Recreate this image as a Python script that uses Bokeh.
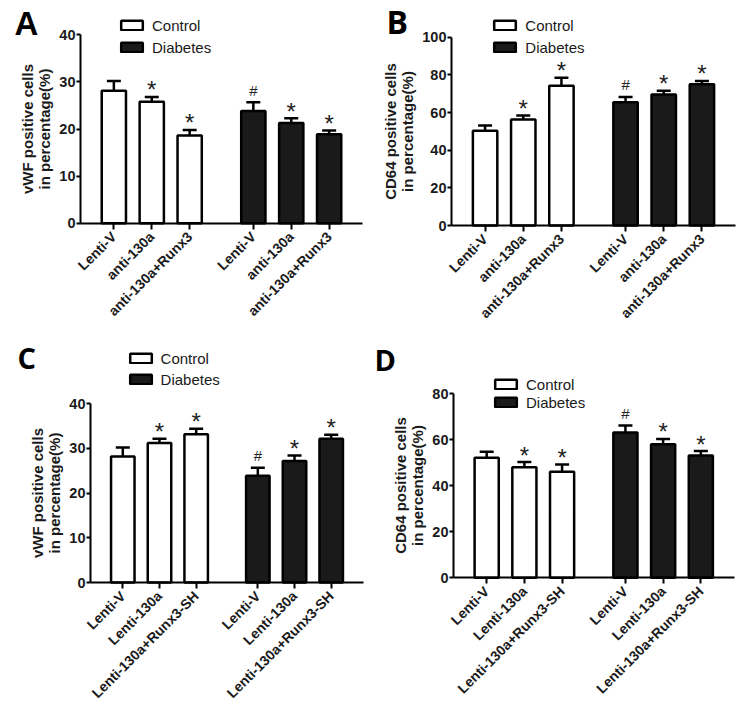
from math import pi
from bokeh.plotting import figure
from bokeh.models import (Range1d, FixedTicker, Legend, LegendItem, Label, Whisker,
                          ColumnDataSource, TeeHead, LinearAxis)
from bokeh.layouts import row, column
from bokeh.embed import file_html
from bokeh.resources import INLINE
from bokeh.core.properties import value

# ---------------- data ----------------
groups = ["Control", "Diabetes"]
labels_ab = ["Lenti-V", "anti-130a", "anti-130a+Runx3"]
labels_cd = ["Lenti-V", "Lenti-130a", "Lenti-130a+Runx3-SH"]
marks_control = ["", "*", "*"]
marks_diabetes = ["#", "*", "*"]

a_control = [28.1, 25.8, 18.6]
a_control_err = [2.1, 1.0, 1.2]
a_diabetes = [23.8, 21.3, 18.9]
a_diabetes_err = [1.9, 1.0, 0.8]

b_control = [50.3, 56.3, 74.2]
b_control_err = [2.8, 2.1, 4.2]
b_diabetes = [65.5, 69.6, 75.0]
b_diabetes_err = [2.8, 1.9, 1.8]

c_control = [28.2, 31.2, 33.2]
c_control_err = [2.0, 1.0, 1.2]
c_diabetes = [23.9, 27.2, 32.2]
c_diabetes_err = [1.8, 1.2, 0.9]

d_control = [52.2, 48.1, 46.1]
d_control_err = [2.6, 2.2, 3.2]
d_diabetes = [63.2, 58.1, 53.2]
d_diabetes_err = [3.0, 2.3, 1.9]

ylabel_vwf = "vWF positive cells\nin percentage(%)"
ylabel_cd64 = "CD64 positive cells\nin percentage(%)"

GAP = 1.68
XLO, XHI = -0.88, 6.56
FONT = "Liberation Sans"


def make_panel(letter, letter_font, letter_size, ylabel, ymax, ystep, labels,
               ctrl, ctrl_err, diab, diab_err, g):
    W, H = g["size"]
    ox, oy = g["origin"]
    ax_x = g["axis_x"] - ox
    end_x = g["end_x"] - ox
    y0 = g["y0"] - oy
    ytop = g["ytop"] - oy
    sx = (end_x - ax_x) / (XHI - XLO)
    sy = (y0 - ytop) / ymax
    xr = Range1d(XLO - ax_x / sx, XHI + (W - end_x) / sx)
    yr = Range1d(-(H - y0) / sy, ymax + ytop / sy)

    n = len(labels)
    xs_c = [float(i) for i in range(n)]
    xs_d = [i + (n - 1 + GAP) for i in range(n)]
    p = figure(width=W, height=H, min_border=0, x_range=xr, y_range=yr,
               x_axis_location=None, y_axis_location=None,
               output_backend="svg", toolbar_location=None)
    p.outline_line_color = None
    p.grid.visible = False
    p.background_fill_color = "white"
    p.border_fill_color = "white"

    renderers = []
    for xs, vals, errs, marks, fill in [(xs_c, ctrl, ctrl_err, marks_control, "white"),
                                        (xs_d, diab, diab_err, marks_diabetes, "#1a1a1a")]:
        upper = [v + e for v, e in zip(vals, errs)]
        src = ColumnDataSource(dict(x=xs, top=vals, upper=upper))
        r = p.vbar(x="x", top="top", bottom=0, width=0.64, source=src,
                   fill_color=fill, line_color="black", line_width=2.5)
        renderers.append(r)
        w = Whisker(source=src, base="x", lower="top", upper="upper", dimension="height",
                    line_color="black", line_width=2.5, lower_head=None,
                    upper_head=TeeHead(size=14, line_width=2.5, line_color="black"))
        p.add_layout(w)
        for sym, size, off in [("*", "24px", -7), ("#", "15px", -12)]:
            idx = [i for i, m in enumerate(marks) if m == sym]
            if not idx:
                continue
            msrc = ColumnDataSource(dict(x=[xs[i] for i in idx], y=[upper[i] for i in idx],
                                         t=[sym for _ in idx]))
            p.text(x="x", y="y", text="t", source=msrc, text_align="center",
                   text_baseline="alphabetic", y_offset=off, text_font=value(FONT),
                   text_font_size=size, text_color="#222222")

    yax = LinearAxis(fixed_location=XLO, bounds=(0, ymax),
                     ticker=FixedTicker(ticks=list(range(0, ymax + 1, ystep))))
    xs_all = xs_c + xs_d
    xax = LinearAxis(fixed_location=0, bounds=(XLO, XHI), ticker=FixedTicker(ticks=xs_all))
    for ax in (xax, yax):
        ax.axis_line_width = 2
        ax.axis_line_color = "black"
        ax.major_tick_line_width = 2
        ax.major_tick_line_color = "black"
        ax.minor_tick_line_color = None
        ax.major_tick_in = 0
        ax.major_label_text_font = FONT
        ax.major_label_text_font_style = "bold"
        ax.major_label_text_color = "#1a1a1a"
    yax.major_tick_out = 4
    yax.major_label_standoff = 1
    yax.major_label_text_font_size = "14.5px"
    yax.axis_label = ylabel
    yax.axis_label_text_font = FONT
    yax.axis_label_text_font_style = "bold"
    yax.axis_label_text_font_size = "15px"
    yax.axis_label_text_line_height = 1.0
    yax.axis_label_standoff = 3
    yax.axis_label_text_color = "#1a1a1a"

    xax.major_label_overrides = {x: lab for x, lab in zip(xs_all, labels + labels)}
    xax.major_label_orientation = pi / 4
    xax.major_tick_out = 6
    xax.major_label_standoff = 5
    xax.major_label_text_font_size = "14px"
    p.add_layout(yax, "left")
    p.add_layout(xax, "below")

    L, c1, c2, ih = g["legend"]
    legend = Legend(items=[LegendItem(label=gname, renderers=[r]) for gname, r in zip(groups, renderers)],
                    location=(L - 2.7 - ox, H - (c2 + ih / 2 - oy)), orientation="vertical",
                    glyph_width=27, glyph_height=12, label_standoff=7,
                    label_text_font=FONT, label_text_font_size="15px",
                    label_text_color="#1a1a1a", label_height=ih,
                    spacing=int(round(c2 - c1 - ih)), padding=0, margin=0,
                    border_line_color=None, background_fill_alpha=0)
    p.add_layout(legend, "center")

    lx, lb, shift = g["letter"]
    p.add_layout(Label(x=lx - ox, y=H - (lb - oy) + shift, x_units="screen", y_units="screen",
                       text=letter, text_font=letter_font, text_font_size=letter_size,
                       text_font_style="bold", text_baseline="alphabetic", text_color="black"))
    return p


ROW1 = 330
geo_a = dict(size=(372, ROW1), origin=(0, 0), axis_x=80, end_x=362, y0=222.7, ytop=34.3,
             legend=(120.7, 25, 47, 20), letter=(14, 36, 13))
geo_b = dict(size=(375, ROW1), origin=(372, 0), axis_x=451, end_x=735, y0=225, ytop=36.7,
             legend=(494, 25, 47, 20), letter=(386, 35, 14))
geo_c = dict(size=(372, 707 - ROW1), origin=(0, ROW1), axis_x=90, end_x=363, y0=582, ytop=403.3,
             legend=(129.3, 358, 379, 20), letter=(17, 369, 12))
geo_d = dict(size=(375, 707 - ROW1), origin=(372, ROW1), axis_x=453, end_x=733.5, y0=577.3,
             ytop=393.3, legend=(494.7, 384.3, 402, 18), letter=(374, 370, 11))

pa = make_panel("A", FONT, "33px", ylabel_vwf, 40, 10, labels_ab,
                a_control, a_control_err, a_diabetes, a_diabetes_err, geo_a)
pb = make_panel("B", "Open Sans", "32px", ylabel_cd64, 100, 20, labels_ab,
                b_control, b_control_err, b_diabetes, b_diabetes_err, geo_b)
pc = make_panel("C", "Open Sans", "29px", ylabel_vwf, 40, 10, labels_cd,
                c_control, c_control_err, c_diabetes, c_diabetes_err, geo_c)
pd = make_panel("D", "Open Sans", "29px", ylabel_cd64, 80, 20, labels_cd,
                d_control, d_control_err, d_diabetes, d_diabetes_err, geo_d)

layout = column(row(pa, pb), row(pc, pd))
open("out.html", "w").write(file_html(layout, INLINE))
